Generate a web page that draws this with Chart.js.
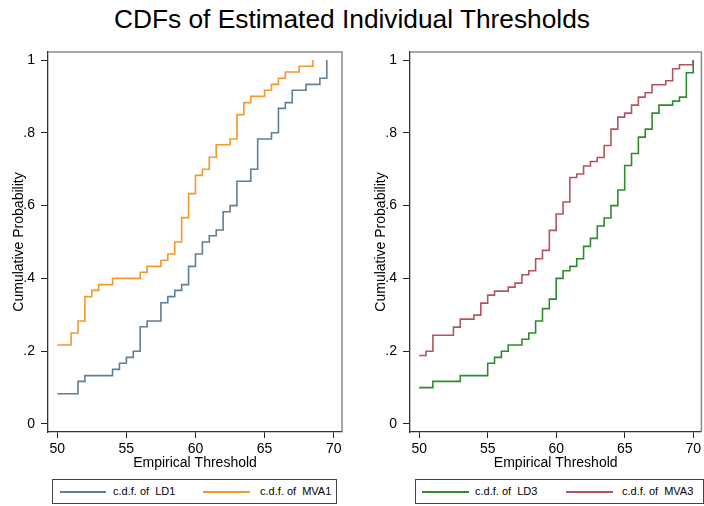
<!DOCTYPE html>
<html>
<head>
<meta charset="utf-8">
<script src="https://cdn.jsdelivr.net/npm/chart.js@4"></script>
<style>
  html, body { margin: 0; padding: 0; background: #fff; }
  #root { position: relative; width: 704px; height: 506px; overflow: hidden; background: #fff; font-family: "Liberation Sans", Arial, Helvetica, sans-serif; }
  #title { position: absolute; left: 0; top: 6px; width: 704px; text-align: center; font-size: 26.3px; line-height: 26px; color: #000; }
  .wrap { position: absolute; top: 0; }
  .legend { position: absolute; top: 479px; height: 25px; border: 1px solid #444; box-sizing: border-box; background: #fff; }
  .lg-line { position: absolute; top: 11px; height: 2px; }
  .lg-text { position: absolute; top: 4px; font-size: 11px; line-height: 14px; color: #000; white-space: pre; }
</style>
</head>
<body>
<div id="root">
  <div id="title">CDFs of Estimated Individual Thresholds</div>
  <div class="wrap" style="left:0px;"><canvas id="c1" width="352" height="475"></canvas></div>
  <div class="wrap" style="left:362px;"><canvas id="c2" width="342" height="475"></canvas></div>
  <div class="legend" style="left:52px; width:285px;">
    <div class="lg-line" style="left:7px; width:46px; background:#5d7f9a;"></div>
    <div class="lg-text" style="left:60px;">c.d.f. of  LD1</div>
    <div class="lg-line" style="left:150px; width:47px; background:#f4982a;"></div>
    <div class="lg-text" style="left:207px;">c.d.f. of  MVA1</div>
  </div>
  <div class="legend" style="left:415px; width:289px;">
    <div class="lg-line" style="left:6px; width:47px; background:#2f8a2f;"></div>
    <div class="lg-text" style="left:59px;">c.d.f. of  LD3</div>
    <div class="lg-line" style="left:150px; width:47px; background:#b3555f;"></div>
    <div class="lg-text" style="left:206px;">c.d.f. of  MVA3</div>
  </div>
</div>
<script>
// ---- data ----
const xTicks = [50, 55, 60, 65, 70];
const yTicks = [0, 0.2, 0.4, 0.6, 0.8, 1];
const yTickLabels = ["0", ".2", ".4", ".6", ".8", "1"];

const ld1X = [50, 51.5, 52, 54, 54.5, 55, 55.5, 56, 56.5, 57.5, 58, 58.5, 59, 59.5, 60, 60.5, 61, 61.5, 62, 62.5, 63, 64, 64.5, 65.5, 66, 66.5, 67, 68, 69, 69.5];
const ld1Y = [0.083, 0.117, 0.133, 0.15, 0.167, 0.183, 0.2, 0.267, 0.283, 0.333, 0.35, 0.367, 0.383, 0.433, 0.467, 0.5, 0.517, 0.533, 0.583, 0.6, 0.667, 0.7, 0.783, 0.8, 0.867, 0.883, 0.917, 0.933, 0.95, 1];

const mva1X = [50, 51, 51.5, 52, 52.5, 53, 54, 56, 56.5, 57.5, 58, 58.5, 59, 59.5, 60, 60.5, 61, 61.5, 62.5, 63, 63.5, 64, 65, 65.5, 66, 66.5, 67.5, 68.5];
const mva1Y = [0.217, 0.25, 0.283, 0.35, 0.367, 0.383, 0.4, 0.417, 0.433, 0.45, 0.467, 0.5, 0.567, 0.633, 0.683, 0.7, 0.733, 0.767, 0.783, 0.85, 0.883, 0.9, 0.917, 0.933, 0.95, 0.967, 0.983, 1];

const ld3X = [50, 51, 53, 55, 55.5, 56, 56.5, 57.5, 58, 58.5, 59, 59.5, 60, 60.5, 61, 61.5, 62, 62.5, 63, 63.5, 64, 64.5, 65, 65.5, 66, 66.5, 67, 67.5, 68.5, 69, 69.5, 70];
const ld3Y = [0.1, 0.117, 0.133, 0.167, 0.183, 0.2, 0.217, 0.233, 0.25, 0.283, 0.317, 0.343, 0.4, 0.421, 0.433, 0.454, 0.488, 0.51, 0.544, 0.566, 0.6, 0.643, 0.71, 0.743, 0.788, 0.81, 0.854, 0.876, 0.887, 0.898, 0.965, 1];

const mva3X = [50, 50.5, 51, 52.5, 53, 54, 54.5, 55, 55.5, 56.5, 57, 57.5, 58, 58.5, 59, 59.5, 60, 60.5, 61, 61.5, 62, 62.5, 63, 63.5, 64, 64.5, 65, 65.5, 66, 66.5, 67, 68, 68.5, 69, 70];
const mva3Y = [0.188, 0.2, 0.244, 0.266, 0.288, 0.299, 0.332, 0.354, 0.365, 0.376, 0.387, 0.41, 0.421, 0.454, 0.477, 0.532, 0.577, 0.61, 0.677, 0.687, 0.709, 0.721, 0.732, 0.765, 0.81, 0.843, 0.854, 0.876, 0.898, 0.91, 0.932, 0.943, 0.976, 0.987, 1];

const seriesNames = ["c.d.f. of  LD1", "c.d.f. of  MVA1", "c.d.f. of  LD3", "c.d.f. of  MVA3"];

// ---- chart building ----
Chart.defaults.font.family = '"Liberation Sans", Arial, Helvetica, sans-serif';
Chart.defaults.color = '#000';

function pts(xs, ys) { return xs.map((x, i) => ({ x: x, y: ys[i] })); }

const framePlugin = {
  id: 'frame',
  afterDraw(chart) {
    const a = chart.chartArea, ctx = chart.ctx;
    ctx.save();
    ctx.strokeStyle = '#8a8a8a';
    ctx.lineWidth = 1.5;
    ctx.beginPath();
    ctx.moveTo(a.left, a.top);
    ctx.lineTo(a.right, a.top);
    ctx.lineTo(a.right, a.bottom);
    ctx.stroke();
    ctx.restore();
  }
};

function makeChart(id, datasets, padRight) {
  return new Chart(document.getElementById(id), {
    type: 'scatter',
    data: { datasets: datasets },
    plugins: [framePlugin],
    options: {
      responsive: false,
      animation: false,
      devicePixelRatio: 1,
      layout: { padding: { top: 52, left: 0, right: padRight, bottom: 0 } },
      plugins: { legend: { display: false }, tooltip: { enabled: false }, title: { display: false } },
      elements: { point: { radius: 0, hoverRadius: 0 }, line: { borderWidth: 1.6, tension: 0 } },
      scales: {
        x: {
          type: 'linear', min: 49.33, max: 70.6,
          afterBuildTicks: s => { s.ticks = xTicks.map(v => ({ value: v })); },
          afterFit: s => { s.height = 43; },
          grid: { drawOnChartArea: false, drawTicks: true, tickLength: 6, color: '#222', lineWidth: 1 },
          border: { display: true, color: '#333', width: 1.3 },
          ticks: { font: { size: 14 }, color: '#000', padding: 3, maxRotation: 0, autoSkip: false, callback: v => String(v) },
          title: { display: true, text: 'Empirical Threshold', font: { size: 14 }, color: '#000', padding: { top: 0, bottom: 3 } }
        },
        y: {
          type: 'linear', min: -0.022, max: 1.022,
          afterBuildTicks: s => { s.ticks = yTicks.map(v => ({ value: v })); },
          afterFit: s => { s.width = 48; },
          grid: { drawOnChartArea: false, drawTicks: true, tickLength: 7, color: '#222', lineWidth: 1 },
          border: { display: true, color: '#333', width: 1.3 },
          ticks: { font: { size: 14 }, color: '#000', padding: 6, autoSkip: false,
                   callback: (v, i) => yTickLabels[yTicks.indexOf(v)] !== undefined ? yTickLabels[yTicks.indexOf(v)] : yTickLabels[i] },
          title: { display: true, text: 'Cumulative Probability', font: { size: 14 }, color: '#000', padding: { top: 11, bottom: 0 } }
        }
      }
    }
  });
}

makeChart('c1', [
  { label: seriesNames[0], data: pts(ld1X, ld1Y), showLine: true, stepped: 'before', borderColor: '#5d7f9a', backgroundColor: '#5d7f9a', fill: false },
  { label: seriesNames[1], data: pts(mva1X, mva1Y), showLine: true, stepped: 'before', borderColor: '#f4982a', backgroundColor: '#f4982a', fill: false }
], 10);

makeChart('c2', [
  { label: seriesNames[2], data: pts(ld3X, ld3Y), showLine: true, stepped: 'before', borderColor: '#2f8a2f', backgroundColor: '#2f8a2f', fill: false },
  { label: seriesNames[3], data: pts(mva3X, mva3Y), showLine: true, stepped: 'before', borderColor: '#b3555f', backgroundColor: '#b3555f', fill: false }
], 1);
</script>
</body>
</html>
